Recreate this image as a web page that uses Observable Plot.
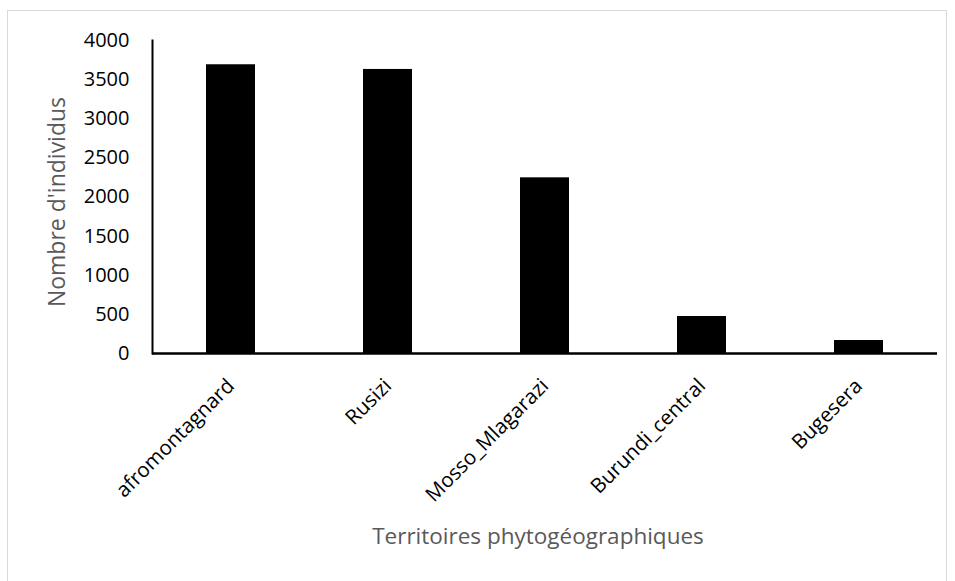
<!DOCTYPE html>
<html>
<head>
<meta charset="utf-8">
<script src="https://cdn.jsdelivr.net/npm/d3@7"></script>
<script src="https://cdn.jsdelivr.net/npm/@observablehq/plot@0.6"></script>
<style>
  html, body { margin: 0; padding: 0; background: #fff; overflow: hidden; }
  #wrap { position: relative; width: 955px; height: 581px; overflow: hidden; }
  #border { position: absolute; left: 7px; top: 10px; width: 940px; height: 620px; border: 1px solid #d9d9d9; box-sizing: border-box; }
  #chart { position: absolute; left: 0; top: 0; }
</style>
</head>
<body>
<div id="wrap"><div id="border"></div><div id="chart"></div></div>
<script>
const categories = ["afromontagnard", "Rusizi", "Mosso_Mlagarazi", "Burundi_central", "Bugesera"];
const values = [3690, 3630, 2245, 473, 166];
const yTicks = [0, 500, 1000, 1500, 2000, 2500, 3000, 3500, 4000];
const xTitle = "Territoires phytogéographiques";
const yTitle = "Nombre d'individus";

const data = categories.map((c, i) => ({cat: c, val: values[i]}));
const font = "'Open Sans', sans-serif";

const plot = Plot.plot({
  width: 955,
  height: 581,
  marginLeft: 152,
  marginRight: 18,
  marginTop: 40,
  marginBottom: 228,
  style: {fontFamily: font, fontSize: "20px", color: "#000", background: "transparent"},
  x: {domain: categories, paddingInner: 0.688, paddingOuter: 0.344, label: null},
  y: {domain: [0, 4000], label: null},
  marks: [
    Plot.barY(data, {x: "cat", y: "val", fill: "#000"}),
    Plot.axisY({ticks: yTicks, tickSize: 0, tickPadding: 23, tickFormat: d => String(d), label: null, fontSize: 20}),
    Plot.axisX({tickSize: 0, tickPadding: 22, dy: 7, tickRotate: -45, label: null, fontSize: 20.5}),
    Plot.frame({anchor: "left", stroke: "#000", strokeWidth: 2}),
    Plot.ruleY([0], {stroke: "#000", strokeWidth: 2.5}),
    Plot.text([yTitle], {frameAnchor: "left", textAnchor: "middle", rotate: -90, dx: -95, dy: 5, fill: "#595959", fontSize: 23, text: d => d}),
    Plot.text([xTitle], {frameAnchor: "bottom", dy: 190, dx: -7, fill: "#595959", fontSize: 22.5, text: d => d})
  ]
});
document.getElementById("chart").appendChild(plot);
</script>
</body>
</html>
